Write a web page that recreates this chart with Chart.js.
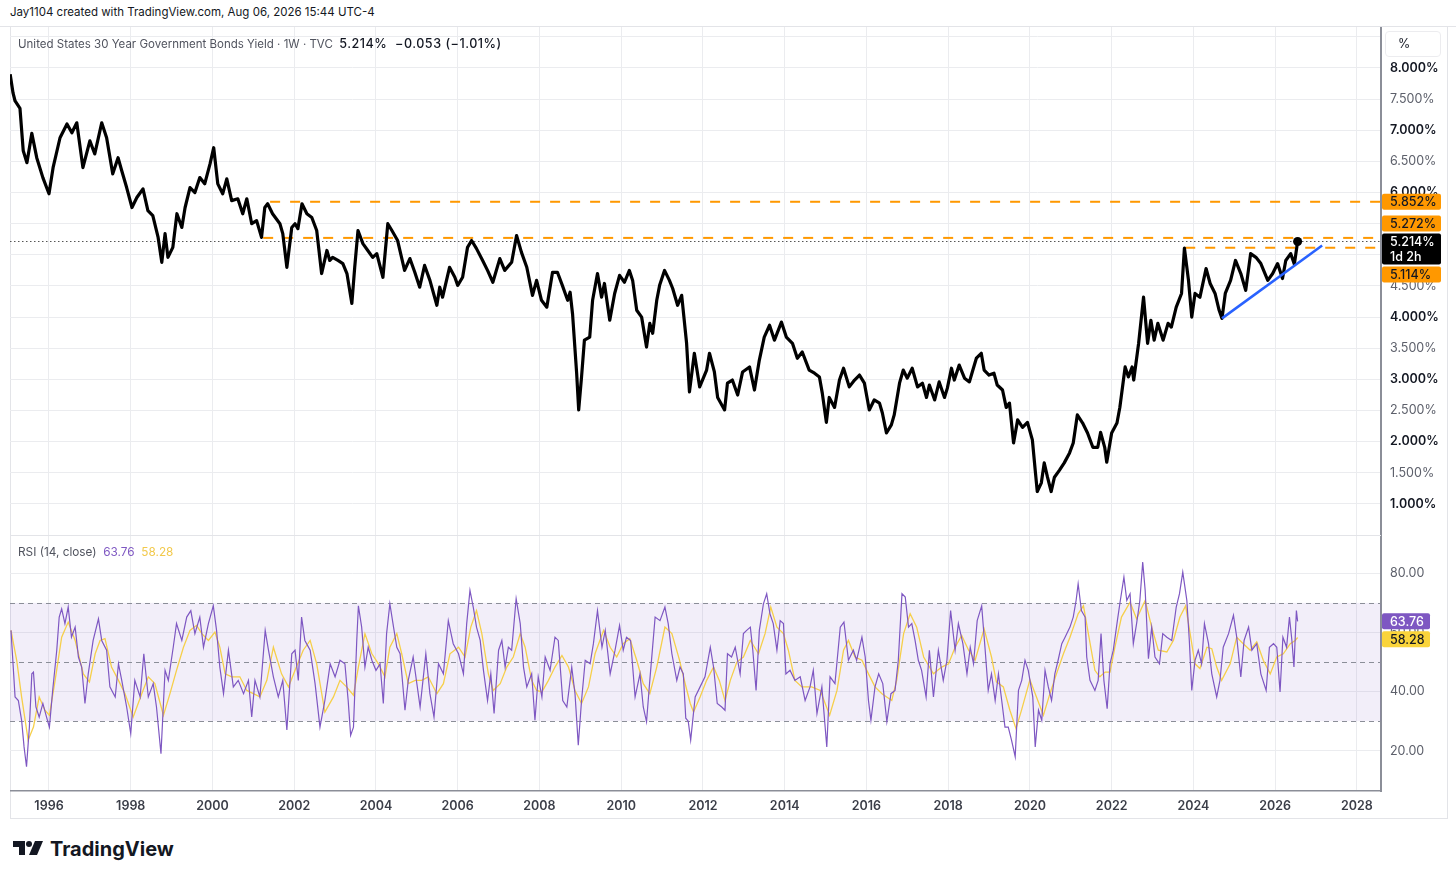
<!DOCTYPE html>
<html>
<head>
<meta charset="utf-8">
<script src="https://cdn.jsdelivr.net/npm/chart.js@4.4.1/dist/chart.umd.min.js"></script>
<style>
  html, body { margin: 0; padding: 0; background: #fff; }
  body { width: 1456px; height: 880px; position: relative; overflow: hidden; font-family: Inter, "Noto Sans", sans-serif; color: #131722; }
  .abs { position: absolute; white-space: nowrap; }
  #head { left: 10px; top: 5px; font-size: 11.5px; }
  #headLine { left: 0; top: 26px; width: 1456px; height: 1px; background: #e3e4e8; }
  #frame { left: 10px; top: 27px; width: 1436px; height: 791px; border: 1px solid #e3e4e8; border-top: none; }
  #pane1 { left: 10px; top: 27px; width: 1437px; height: 509px; }
  #pane2 { left: 10px; top: 536px; width: 1437px; height: 283px; }
  #sep { left: 10px; top: 535px; width: 1371px; height: 1px; background: #e3e4e8; }
  #title { left: 18px; top: 36px; font-size: 11.5px; color: #50535e; }
  #title b { font-weight: 500; font-size: 12.6px; letter-spacing: 0.5px; }
  #rsiTitle b { font-weight: 400; }
  #rsiTitle { left: 18px; top: 545px; font-size: 11.8px; color: #50535e; }
  #pct { left: 1385px; top: 31px; width: 54px; height: 24px; border: 1px solid #ececef; border-radius: 4px; font-size: 12.5px; line-height: 24px; text-indent: 12px; }
  #logo { left: 12px; top: 836px; }
</style>
</head>
<body>
<div class="abs" id="head">Jay1104 created with TradingView.com, Aug 06, 2026 15:44 UTC-4</div>
<div class="abs" id="headLine"></div>
<div class="abs" id="frame"></div>
<div class="abs" id="pane1"><canvas id="priceChart"></canvas></div>
<div class="abs" id="pane2"><canvas id="rsiChart"></canvas></div>
<div class="abs" id="sep"></div>
<div class="abs" id="title">United States 30 Year Government Bonds Yield · 1W · TVC&nbsp;&nbsp;<b style="color:#131722">5.214%&nbsp;&nbsp;−0.053 (−1.01%)</b></div>
<div class="abs" id="rsiTitle">RSI (14, close)&nbsp;&nbsp;<b style="color:#7e57c2">63.76</b>&nbsp;&nbsp;<b style="color:#f2c94c">58.28</b></div>
<div class="abs" id="pct">%</div>
<div class="abs" id="logo">
  <svg width="170" height="28" viewBox="0 0 170 28">
    <path d="M1 5 H13 V19 H7 V11 H1 Z" fill="#131722"/>
    <circle cx="17" cy="8" r="3" fill="#131722"/>
    <path d="M23 5 H31 L25 19 H17 Z" fill="#131722"/>
    <text x="38" y="20" font-family="Inter, sans-serif" font-weight="700" font-size="20" fill="#131722">TradingView</text>
  </svg>
</div>
<script>
// weekly close of the 30Y yield (decimal year, %)
const priceYears = [
  1995.05, 1995.12, 1995.17, 1995.29, 1995.37, 1995.46, 1995.58, 1995.70, 1995.85,
  1996.00, 1996.10, 1996.27, 1996.44, 1996.56, 1996.68, 1996.83,
  1997.00, 1997.12, 1997.29, 1997.41, 1997.56, 1997.69, 1997.78, 1997.90,
  1998.03, 1998.15, 1998.30, 1998.42, 1998.54, 1998.67, 1998.76, 1998.84, 1998.91,
  1999.03, 1999.13, 1999.25, 1999.33, 1999.45, 1999.57, 1999.69, 1999.81, 1999.94,
  2000.03, 2000.13, 2000.25, 2000.35, 2000.47, 2000.62, 2000.74, 2000.84, 2000.96,
  2001.08, 2001.20, 2001.28, 2001.35, 2001.47, 2001.65, 2001.72, 2001.82, 2001.94,
  2002.02, 2002.09, 2002.19, 2002.31, 2002.43, 2002.55, 2002.67, 2002.80, 2002.87, 2002.94,
  2003.07, 2003.19, 2003.29, 2003.41, 2003.48, 2003.56, 2003.68, 2003.80, 2003.92,
  2004.02, 2004.17, 2004.29, 2004.39, 2004.53, 2004.70, 2004.83, 2004.95,
  2005.07, 2005.19, 2005.32, 2005.49, 2005.56, 2005.63, 2005.80, 2005.93,
  2006.00, 2006.12, 2006.24, 2006.34, 2006.46, 2006.61, 2006.73, 2006.86,
  2007.03, 2007.15, 2007.32, 2007.44, 2007.56, 2007.69, 2007.83, 2007.93,
  2008.05, 2008.18, 2008.32, 2008.44, 2008.56, 2008.69, 2008.75, 2008.81, 2008.91, 2008.96,
  2009.03, 2009.10, 2009.23, 2009.30, 2009.42, 2009.52, 2009.59, 2009.72, 2009.84, 2009.96,
  2010.08, 2010.20, 2010.28, 2010.38, 2010.50, 2010.62, 2010.70, 2010.77, 2010.87, 2010.94,
  2011.06, 2011.18, 2011.26, 2011.38, 2011.48, 2011.60, 2011.67, 2011.79, 2011.92,
  2012.09, 2012.16, 2012.28, 2012.36, 2012.53, 2012.60, 2012.72, 2012.85, 2012.97,
  2013.14, 2013.26, 2013.38, 2013.50, 2013.63, 2013.75, 2013.92,
  2014.04, 2014.19, 2014.31, 2014.43, 2014.60, 2014.73, 2014.85, 2014.92,
  2015.02, 2015.09, 2015.22, 2015.34, 2015.44, 2015.58, 2015.71, 2015.83, 2015.95,
  2016.07, 2016.19, 2016.32, 2016.39, 2016.49, 2016.61, 2016.68, 2016.81, 2016.90,
  2017.00, 2017.12, 2017.25, 2017.37, 2017.47, 2017.54, 2017.67, 2017.78, 2017.91, 2017.98,
  2018.08, 2018.15, 2018.27, 2018.40, 2018.52, 2018.59, 2018.69, 2018.81, 2018.88,
  2019.00, 2019.12, 2019.20, 2019.33, 2019.42, 2019.50, 2019.60, 2019.70, 2019.82, 2019.94,
  2020.06, 2020.13, 2020.18, 2020.28, 2020.35, 2020.43, 2020.52, 2020.60, 2020.72, 2020.84, 2020.97,
  2021.06, 2021.16, 2021.29, 2021.41, 2021.54, 2021.66, 2021.73, 2021.83, 2021.88,
  2022.00, 2022.13, 2022.20, 2022.33, 2022.41, 2022.50, 2022.54, 2022.66, 2022.78, 2022.88, 2022.96,
  2023.04, 2023.13, 2023.26, 2023.38, 2023.46, 2023.58, 2023.71, 2023.78, 2023.88, 2023.96,
  2024.04, 2024.16, 2024.31, 2024.41, 2024.53, 2024.63, 2024.70, 2024.78, 2024.91,
  2025.03, 2025.16, 2025.28, 2025.40, 2025.53, 2025.65, 2025.82, 2025.94,
  2026.06, 2026.18, 2026.26, 2026.38, 2026.47, 2026.55
];
const priceValues = [
  7.90, 7.60, 7.47, 7.35, 6.67, 6.48, 6.95, 6.56, 6.24,
  5.98, 6.40, 6.88, 7.10, 6.96, 7.12, 6.40,
  6.83, 6.62, 7.12, 6.88, 6.30, 6.56, 6.35, 6.08,
  5.76, 5.92, 6.06, 5.71, 5.63, 5.28, 4.88, 5.34, 4.96,
  5.12, 5.66, 5.44, 5.76, 6.08, 6.00, 6.24, 6.14, 6.46,
  6.72, 6.14, 5.98, 6.22, 5.87, 5.90, 5.66, 5.90, 5.50,
  5.55, 5.28, 5.76, 5.82, 5.66, 5.50, 5.34, 4.80, 5.44,
  5.50, 5.42, 5.82, 5.66, 5.60, 5.39, 4.70, 5.07, 4.91, 4.96,
  4.91, 4.86, 4.70, 4.22, 4.80, 5.39, 5.18, 5.07, 4.96,
  5.02, 4.64, 5.50, 5.39, 5.23, 4.75, 4.94, 4.72,
  4.48, 4.83, 4.59, 4.19, 4.48, 4.32, 4.80, 4.64,
  4.51, 4.64, 5.12, 5.23, 5.10, 4.91, 4.75, 4.56,
  4.94, 4.75, 4.88, 5.31, 5.04, 4.80, 4.35, 4.59,
  4.27, 4.16, 4.72, 4.72, 4.51, 4.27, 4.40, 4.05, 3.10, 2.51,
  3.04, 3.63, 3.68, 4.27, 4.70, 4.32, 4.54, 3.95, 4.38, 4.67,
  4.56, 4.75, 4.59, 4.11, 4.00, 3.52, 3.90, 3.74, 4.27, 4.51,
  4.75, 4.59, 4.46, 4.19, 4.35, 3.58, 2.80, 3.42, 2.88,
  3.15, 3.42, 3.12, 2.71, 2.51, 2.94, 2.99, 2.75, 3.12,
  3.20, 2.83, 3.31, 3.68, 3.87, 3.63, 3.92,
  3.68, 3.58, 3.34, 3.44, 3.15, 3.10, 3.04, 2.78,
  2.31, 2.71, 2.55, 2.99, 3.18, 2.88, 2.99, 3.07, 2.94,
  2.51, 2.67, 2.62, 2.46, 2.14, 2.27, 2.43, 2.94, 3.15,
  3.02, 3.18, 2.88, 2.94, 2.71, 2.91, 2.67, 2.96, 2.71, 2.86,
  3.18, 2.99, 3.23, 3.02, 2.96, 3.12, 3.34, 3.42, 3.15,
  3.07, 3.10, 2.91, 2.83, 2.55, 2.62, 1.98, 2.35, 2.23, 2.31,
  2.03, 1.54, 1.20, 1.34, 1.66, 1.43, 1.20, 1.43, 1.54, 1.66, 1.82,
  1.98, 2.43, 2.30, 2.14, 1.91, 1.91, 2.15, 1.91, 1.67,
  2.14, 2.30, 2.55, 3.20, 3.04, 3.20, 2.99, 3.58, 4.32, 3.58, 3.95,
  3.63, 3.90, 3.63, 3.90, 3.84, 4.16, 4.38, 5.11, 4.59, 4.00,
  4.38, 4.32, 4.78, 4.54, 4.38, 4.11, 3.98, 4.38, 4.59,
  4.91, 4.70, 4.43, 5.02, 4.96, 4.86, 4.59, 4.70,
  4.86, 4.62, 4.91, 5.02, 4.85, 5.214
];

// RSI (14, close)
const rsiYears = [
  1995.07, 1995.11, 1995.17, 1995.25, 1995.33, 1995.39, 1995.45, 1995.52, 1995.58, 1995.62, 1995.68, 1995.76, 1995.85, 1995.94,
  1996.01, 1996.09, 1996.19, 1996.25, 1996.31, 1996.39, 1996.47, 1996.55, 1996.64, 1996.72, 1996.80, 1996.88, 1996.96,
  1997.08, 1997.21, 1997.29, 1997.41, 1997.49, 1997.62, 1997.70, 1997.78, 1997.90,
  1998.00, 1998.10, 1998.23, 1998.32, 1998.43, 1998.55, 1998.63, 1998.74, 1998.84, 1998.92,
  1999.04, 1999.12, 1999.25, 1999.37, 1999.47, 1999.57, 1999.69, 1999.78, 1999.90,
  2000.02, 2000.10, 2000.18, 2000.27, 2000.39, 2000.51, 2000.63, 2000.76, 2000.88, 2000.96,
  2001.04, 2001.16, 2001.29, 2001.37, 2001.49, 2001.61, 2001.72, 2001.82, 2001.94,
  2002.02, 2002.10, 2002.18, 2002.26, 2002.39, 2002.51, 2002.63, 2002.75, 2002.88,
  2003.00, 2003.12, 2003.24, 2003.32, 2003.38, 2003.45, 2003.53, 2003.57, 2003.65, 2003.73, 2003.81, 2003.90,
  2004.00, 2004.10, 2004.18, 2004.26, 2004.34, 2004.43, 2004.51, 2004.59, 2004.71, 2004.79, 2004.91,
  2005.08, 2005.22, 2005.32, 2005.42, 2005.53, 2005.65, 2005.77, 2005.89,
  2006.02, 2006.14, 2006.22, 2006.30, 2006.38, 2006.46, 2006.55, 2006.63, 2006.73, 2006.81, 2006.89,
  2007.00, 2007.08, 2007.16, 2007.24, 2007.32, 2007.43, 2007.53, 2007.61, 2007.69, 2007.81, 2007.89, 2007.97,
  2008.06, 2008.14, 2008.26, 2008.38, 2008.46, 2008.57, 2008.67, 2008.79, 2008.87, 2008.95,
  2009.03, 2009.12, 2009.24, 2009.32, 2009.42, 2009.53, 2009.61, 2009.73, 2009.85, 2009.96,
  2010.05, 2010.13, 2010.23, 2010.34, 2010.46, 2010.54, 2010.62, 2010.70, 2010.83, 2010.95,
  2011.07, 2011.15, 2011.24, 2011.36, 2011.44, 2011.52, 2011.58, 2011.64, 2011.70, 2011.81, 2011.93,
  2012.05, 2012.18, 2012.26, 2012.35, 2012.46, 2012.54, 2012.60, 2012.70, 2012.79, 2012.91, 2012.99,
  2013.07, 2013.16, 2013.22, 2013.30, 2013.38, 2013.48, 2013.56, 2013.64, 2013.72, 2013.81, 2013.89, 2013.97,
  2014.03, 2014.13, 2014.25, 2014.38, 2014.50, 2014.62, 2014.70, 2014.79, 2014.91,
  2015.03, 2015.11, 2015.23, 2015.36, 2015.45, 2015.56, 2015.68, 2015.76, 2015.89, 2015.97,
  2016.05, 2016.11, 2016.21, 2016.30, 2016.40, 2016.50, 2016.60, 2016.70, 2016.78, 2016.87, 2016.95,
  2017.03, 2017.11, 2017.19, 2017.27, 2017.35, 2017.46, 2017.54, 2017.64, 2017.76, 2017.88, 2017.97,
  2018.06, 2018.17, 2018.25, 2018.36, 2018.46, 2018.54, 2018.62, 2018.71, 2018.82, 2018.90, 2018.98,
  2019.06, 2019.15, 2019.23, 2019.31, 2019.39, 2019.47, 2019.55, 2019.64, 2019.72, 2019.80, 2019.88, 2019.96,
  2020.07, 2020.13, 2020.21, 2020.29, 2020.37, 2020.45, 2020.53, 2020.61, 2020.69, 2020.78, 2020.86, 2020.98,
  2021.06, 2021.13, 2021.18, 2021.26, 2021.35, 2021.39, 2021.47, 2021.59, 2021.67, 2021.74, 2021.81, 2021.89, 2021.96,
  2022.04, 2022.14, 2022.20, 2022.30, 2022.37, 2022.45, 2022.53, 2022.61, 2022.69, 2022.76, 2022.82, 2022.90, 2022.98,
  2023.06, 2023.17, 2023.25, 2023.35, 2023.47, 2023.58, 2023.66, 2023.74, 2023.84, 2023.90, 2023.96,
  2024.04, 2024.12, 2024.20, 2024.27, 2024.37, 2024.45, 2024.57, 2024.65, 2024.73, 2024.86, 2024.98,
  2025.06, 2025.16, 2025.24, 2025.35, 2025.43, 2025.55, 2025.65, 2025.78, 2025.86, 2025.96,
  2026.04, 2026.12, 2026.19, 2026.28, 2026.35, 2026.41, 2026.46, 2026.52, 2026.55
];
const rsiValues = [
  60.7, 51.7, 38.2, 37.0, 30.3, 21.3, 14.6, 28.0, 46.0, 46.6, 34.8, 31.4, 36.0, 31.4,
  28.0, 40.4, 54.0, 65.2, 68.0, 63.0, 68.6, 58.4, 61.8, 51.7, 48.3, 36.0, 46.0,
  57.3, 64.6, 57.3, 54.0, 41.6, 38.2, 49.4, 43.8, 34.8,
  25.8, 43.8, 38.2, 52.8, 38.2, 42.7, 34.8, 19.0, 47.2, 43.8,
  55.0, 63.0, 57.3, 65.2, 67.4, 59.6, 65.2, 55.0, 63.0,
  69.0, 60.7, 48.3, 39.3, 54.0, 41.6, 43.8, 39.3, 43.8, 31.4,
  43.8, 38.2, 60.7, 54.0, 45.0, 38.2, 43.8, 27.0, 52.8,
  54.0, 43.8, 65.2, 57.3, 54.0, 42.7, 28.0, 37.0, 49.4,
  45.0, 50.6, 49.4, 37.0, 25.2, 28.0, 57.3, 69.0, 61.8, 48.3, 55.0, 50.6,
  47.2, 49.4, 36.0, 59.6, 69.7, 61.8, 55.0, 52.8, 33.7, 43.8, 51.7,
  34.8, 52.8, 39.3, 31.4, 49.4, 46.0, 64.0, 56.2,
  52.8, 46.0, 63.0, 74.2, 68.6, 61.8, 57.3, 47.2, 37.0, 46.0, 32.6,
  54.0, 57.3, 48.3, 55.0, 54.0, 71.4, 63.0, 48.3, 41.6, 46.0, 30.3, 45.0,
  38.2, 51.7, 47.2, 58.4, 57.3, 37.0, 34.8, 48.3, 39.3, 21.9,
  37.0, 50.6, 49.4, 56.2, 67.4, 55.0, 60.7, 46.0, 54.0, 62.4,
  54.0, 58.4, 57.3, 38.2, 46.0, 34.8, 29.8, 43.8, 65.2, 64.0,
  68.6, 63.0, 52.8, 43.8, 48.3, 46.0, 31.0, 30.0, 23.6, 38.2, 41.6,
  45.0, 55.0, 48.3, 36.0, 34.8, 33.7, 52.8, 51.7, 55.0, 46.0, 59.6,
  60.7, 61.8, 54.0, 40.4, 60.7, 69.7, 73.1, 66.3, 63.0, 54.0, 64.0, 63.0,
  46.0, 47.2, 43.8, 45.0, 37.0, 41.6, 47.2, 32.6, 41.6,
  21.3, 45.0, 42.7, 61.8, 63.5, 50.6, 54.0, 50.6, 58.4, 51.7,
  37.0, 30.3, 41.6, 46.0, 42.7, 29.8, 39.3, 40.4, 50.6, 73.1, 72.0,
  61.8, 63.0, 57.3, 50.6, 47.2, 38.2, 54.0, 38.2, 54.0, 43.8, 50.6,
  67.4, 54.0, 63.0, 56.2, 46.0, 55.0, 49.4, 64.0, 69.0, 55.0, 40.4,
  46.0, 37.0, 46.0, 37.0, 28.0, 28.0, 23.6, 18.0, 40.4, 43.8, 50.6, 47.2,
  38.2, 21.3, 33.7, 30.3, 47.2, 41.6, 37.0, 46.0, 50.6, 56.2, 58.4, 61.8,
  65.2, 70.8, 76.4, 67.4, 65.2, 51.7, 43.8, 40.4, 43.8, 59.6, 43.8, 34.2, 49.4,
  54.0, 64.0, 69.7, 78.7, 70.8, 73.1, 56.2, 63.0, 70.8, 83.8, 74.2, 51.1, 61.8,
  51.7, 49.4, 59.6, 58.4, 57.3, 68.6, 73.1, 80.4, 70.8, 57.3, 40.4,
  50.6, 54.0, 49.4, 63.0, 56.2, 46.0, 38.2, 43.8, 55.0, 59.6, 65.8,
  58.4, 45.0, 57.3, 61.8, 54.0, 56.2, 46.0, 40.4, 55.0, 56.2,
  55.0, 39.9, 58.4, 55.0, 65.2, 57.3, 48.3, 67.4, 63.76
];

// moving average of the RSI
const rsiMaYears = [
  1995.07, 1995.21, 1995.33, 1995.49, 1995.62, 1995.76, 1995.90,
  1996.01, 1996.15, 1996.31, 1996.47, 1996.64, 1996.84, 1996.99,
  1997.13, 1997.25, 1997.37, 1997.53, 1997.70, 1997.86,
  1998.06, 1998.27, 1998.43, 1998.59, 1998.80, 1998.96,
  1999.12, 1999.29, 1999.45, 1999.61, 1999.74, 1999.90,
  2000.06, 2000.18, 2000.31, 2000.47, 2000.67, 2000.84,
  2001.00, 2001.16, 2001.33, 2001.49, 2001.69, 2001.86,
  2002.02, 2002.22, 2002.39, 2002.55, 2002.75, 2002.96,
  2003.12, 2003.28, 2003.45, 2003.57, 2003.73, 2003.90,
  2004.06, 2004.22, 2004.34, 2004.51, 2004.63, 2004.79, 2004.96,
  2005.12, 2005.28, 2005.49, 2005.65, 2005.81,
  2006.02, 2006.18, 2006.32, 2006.46, 2006.59, 2006.75, 2006.87,
  2007.04, 2007.20, 2007.36, 2007.53, 2007.65, 2007.81, 2007.93,
  2008.06, 2008.22, 2008.38, 2008.55, 2008.71, 2008.87,
  2009.03, 2009.20, 2009.36, 2009.57, 2009.73, 2009.89,
  2010.05, 2010.21, 2010.38, 2010.54, 2010.70, 2010.87,
  2011.07, 2011.24, 2011.42, 2011.56, 2011.69, 2011.77, 2011.93,
  2012.09, 2012.26, 2012.40, 2012.54, 2012.67, 2012.83, 2012.99,
  2013.16, 2013.36, 2013.52, 2013.66, 2013.81, 2013.97,
  2014.09, 2014.25, 2014.42, 2014.66, 2014.87,
  2015.10, 2015.28, 2015.44, 2015.56, 2015.72, 2015.89,
  2016.05, 2016.21, 2016.38, 2016.62, 2016.74, 2016.91,
  2017.07, 2017.23, 2017.40, 2017.64, 2017.84,
  2018.01, 2018.17, 2018.33, 2018.50, 2018.66, 2018.88,
  2019.06, 2019.18, 2019.35, 2019.51, 2019.66, 2019.80,
  2020.00, 2020.13, 2020.33, 2020.49, 2020.65, 2020.82, 2020.98,
  2021.18, 2021.31, 2021.43, 2021.59, 2021.71, 2021.84, 2021.96,
  2022.08, 2022.24, 2022.45, 2022.61, 2022.82, 2022.98,
  2023.14, 2023.35, 2023.51, 2023.67, 2023.81, 2023.92,
  2024.04, 2024.16, 2024.33, 2024.45, 2024.57, 2024.69, 2024.90,
  2025.06, 2025.22, 2025.39, 2025.55, 2025.71, 2025.88,
  2026.04, 2026.20, 2026.37, 2026.49, 2026.55
];
const rsiMaValues = [
  60.7, 50.6, 38.2, 23.6, 28.0, 38.2, 33.7,
  32.0, 43.8, 58.4, 63.5, 57.3, 46.0, 43.3,
  52.8, 57.3, 57.9, 48.3, 43.8, 39.3,
  31.4, 39.3, 45.0, 42.7, 32.0, 39.3,
  47.2, 55.0, 60.7, 62.4, 59.6, 57.3,
  60.1, 55.0, 46.0, 45.0, 45.0, 40.4,
  39.3, 38.2, 43.8, 55.0, 46.0, 41.6,
  47.2, 54.0, 57.3, 49.4, 33.1, 38.2,
  43.8, 41.6, 38.8, 48.3, 59.6, 52.8,
  49.4, 45.0, 55.0, 59.6, 52.8, 42.7, 43.8,
  43.8, 45.0, 39.3, 42.7, 52.8,
  55.0, 51.7, 61.8, 67.4, 59.6, 46.0, 40.4,
  42.7, 48.3, 51.7, 59.6, 55.0, 43.8, 40.4,
  39.9, 43.8, 48.3, 52.2, 48.3, 40.4,
  36.0, 41.6, 52.8, 60.7, 55.0, 51.7,
  56.2, 57.9, 50.6, 42.7, 39.3, 48.3,
  61.8, 59.6, 51.0, 43.0, 36.0, 33.1, 38.2,
  43.8, 48.3, 43.8, 37.0, 43.8, 50.0, 51.7,
  57.3, 52.8, 59.6, 68.6, 61.8, 59.6,
  54.0, 43.8, 41.6, 41.6, 40.4,
  32.0, 40.4, 54.0, 57.3, 51.7, 50.6,
  46.0, 41.6, 39.3, 37.0, 43.8, 59.6,
  66.3, 61.8, 51.7, 46.0, 48.3,
  49.4, 55.0, 59.0, 54.0, 50.6, 61.2,
  51.7, 43.3, 41.6, 33.7, 27.5, 34.0,
  44.0, 39.3, 32.0, 39.3, 46.0, 52.8, 58.4,
  66.3, 69.0, 59.6, 47.2, 45.0, 46.6, 46.6,
  55.0, 65.2, 70.2, 64.6, 70.8, 61.8,
  54.0, 53.4, 57.3, 65.2, 69.0, 59.6,
  49.4, 47.8, 55.0, 54.5, 48.3, 43.8, 49.4,
  58.4, 56.2, 54.0, 56.8, 50.6, 46.0,
  51.7, 52.8, 56.2, 57.3, 58.28
];

// horizontal levels drawn on the chart and where each one starts
const levelValues = [5.852, 5.272, 5.114];
const levelStarts = [2001.41, 2001.24, 2023.80];
// rising support line
const trendYears = [2024.70, 2027.15];
const trendValues = [3.98, 5.15];

const lastYield = 5.214;
const lastRsi = 63.76;
const lastRsiMa = 58.28;

const yieldTicks = [1, 1.5, 2, 2.5, 3, 3.5, 4, 4.5, 5, 5.5, 6, 6.5, 7, 7.5, 8, 8.5];
const rsiTicks = [20, 40, 60, 80];
const rsiBands = [70, 50, 30];
const yearTicks = [1996, 1998, 2000, 2002, 2004, 2006, 2008, 2010, 2012, 2014, 2016, 2018, 2020, 2022, 2024, 2026, 2028];

const X_MIN = 1995.046, X_MAX = 2028.59;
const AXIS_W = 66;
const GRID = '#ebecef';
const FONT = 'Inter';

Chart.defaults.font.family = FONT;
Chart.defaults.animation = false;

const toPoints = (xs, ys) => xs.map((x, i) => ({ x: x, y: ys[i] }));
const isWhole = c => !!(c && c.tick && Number.isInteger(c.tick.value));

// keep the plot flush with the pane edges: drop the label overhang padding
function fixY(s) {
  s.width = AXIS_W;
  s.paddingTop = 0;
  s.paddingBottom = 0;
}

// draws the price/value tags on the right axis, pushing neighbours off the fixed one
function drawBadges(chart, badges) {
  const ctx = chart.ctx;
  const yScale = chart.scales.y;
  const left = chart.chartArea.right + 1;
  const lineH = 15, pad = 0.5;
  const fixed = badges.find(b => b.fixed);
  const fy = yScale.getPixelForValue(fixed.value);
  const fTop = fy - lineH / 2 - pad;
  const fBot = fTop + fixed.lines.length * lineH + 2 * pad;
  badges.forEach(b => {
    const h = b.lines.length * lineH + 2 * pad;
    let top;
    if (b === fixed) top = fTop;
    else {
      const c = yScale.getPixelForValue(b.value);
      const center = b.value > fixed.value ? Math.min(c, fTop - 2 - h / 2) : Math.max(c, fBot + 2 + h / 2);
      top = center - h / 2;
    }
    ctx.save();
    ctx.fillStyle = b.bg;
    ctx.beginPath();
    ctx.roundRect(left, top, b.width, h, 2);
    ctx.fill();
    ctx.fillStyle = b.fg;
    ctx.font = '500 12.5px ' + FONT;
    ctx.textBaseline = 'middle';
    b.lines.forEach((t, i) => ctx.fillText(t, left + 8, top + pad + lineH / 2 + i * lineH + 0.5));
    ctx.restore();
  });
}

const decor = {
  id: 'decor',
  beforeDatasetsDraw(chart, args, opts) {
    if (!opts.bands) return;
    const { ctx, chartArea: a } = chart;
    const y = chart.scales.y;
    ctx.save();
    ctx.fillStyle = 'rgba(126, 87, 194, 0.1)';
    const yTop = y.getPixelForValue(opts.bands[0]);
    const yBot = y.getPixelForValue(opts.bands[opts.bands.length - 1]);
    ctx.fillRect(a.left, yTop, a.right - a.left, yBot - yTop);
    ctx.strokeStyle = '#8b8e98';
    ctx.lineWidth = 1;
    ctx.setLineDash([5, 4]);
    opts.bands.forEach(v => {
      const py = Math.round(y.getPixelForValue(v)) + 0.5;
      ctx.beginPath();
      ctx.moveTo(a.left, py);
      ctx.lineTo(a.right, py);
      ctx.stroke();
    });
    ctx.restore();
  },
  afterDraw(chart, args, opts) {
    if (opts.badges) drawBadges(chart, opts.badges);
  }
};

const xScale = (showLabels) => ({
  type: 'linear',
  min: X_MIN,
  max: X_MAX,
  afterBuildTicks: s => { s.ticks = yearTicks.map(v => ({ value: v })); },
  afterFit: s => { s.height = showLabels ? 28 : 0; s.paddingLeft = 0; s.paddingRight = 0; },
  grid: { color: GRID, drawTicks: false },
  border: { display: showLabels, color: '#8b8e98', width: 1.5 },
  ticks: {
    display: showLabels,
    padding: 8,
    maxRotation: 0,
    autoSkip: false,
    color: '#3b3e48',
    font: { size: 12.5, weight: '600' },
    callback: v => String(v)
  }
});

const levelSets = levelValues.map((v, i) => ({
  data: [{ x: levelStarts[i], y: v }, { x: X_MAX, y: v }],
  borderColor: '#ff9800',
  borderWidth: 2,
  borderDash: [10, 10],
  pointRadius: 0
}));

const lastIdx = priceValues.length - 1;

new Chart(document.getElementById('priceChart'), {
  type: 'line',
  data: {
    datasets: [
      {
        data: toPoints(trendYears, trendValues),
        borderColor: '#2962ff',
        borderWidth: 2.5,
        pointRadius: 0
      },
      {
        data: toPoints(priceYears, priceValues),
        borderColor: '#000',
        borderWidth: 3.2,
        borderJoinStyle: 'round',
        pointRadius: c => c.dataIndex === lastIdx ? 4.5 : 0,
        pointBackgroundColor: '#000',
        pointBorderWidth: 0
      },
      ...levelSets,
      {
        data: [{ x: X_MIN, y: lastYield }, { x: X_MAX, y: lastYield }],
        borderColor: '#555',
        borderWidth: 1,
        borderDash: [1.5, 2.5],
        pointRadius: 0
      }
    ]
  },
  options: {
    responsive: true,
    maintainAspectRatio: false,
    parsing: false,
    layout: { padding: 0, autoPadding: false },
    plugins: {
      legend: { display: false },
      tooltip: { enabled: false },
      decor: {
        badges: [
          { value: 5.852, lines: ['5.852%'], bg: '#ff9800', fg: '#131722', width: 59 },
          { value: 5.272, lines: ['5.272%'], bg: '#ff9800', fg: '#131722', width: 59 },
          { value: lastYield, lines: ['5.214%', '1d 2h'], bg: '#000', fg: '#fff', width: 59, fixed: true },
          { value: 5.114, lines: ['5.114%'], bg: '#ff9800', fg: '#131722', width: 59 }
        ]
      }
    },
    scales: {
      x: xScale(false),
      y: {
        position: 'right',
        min: 0.486,
        max: 8.658,
        afterFit: fixY,
        afterBuildTicks: s => { s.ticks = yieldTicks.map(v => ({ value: v })); },
        grid: { color: GRID, drawTicks: false },
        border: { display: true, color: '#8b8e98', width: 2 },
        ticks: {
          padding: 9,
          callback: v => v === 8.5 ? '' : v.toFixed(3) + '%',
          color: c => isWhole(c) ? '#131722' : '#5d606b',
          font: c => ({ size: 12.5, weight: isWhole(c) ? '600' : '400' })
        }
      }
    }
  },
  plugins: [decor]
});

new Chart(document.getElementById('rsiChart'), {
  type: 'line',
  data: {
    datasets: [
      {
        data: toPoints(rsiYears, rsiValues),
        borderColor: '#7e57c2',
        borderWidth: 1.2,
        pointRadius: 0
      },
      {
        data: toPoints(rsiMaYears, rsiMaValues),
        borderColor: '#f6cf4a',
        borderWidth: 1.3,
        pointRadius: 0
      }
    ]
  },
  options: {
    responsive: true,
    maintainAspectRatio: false,
    parsing: false,
    layout: { padding: 0, autoPadding: false },
    plugins: {
      legend: { display: false },
      tooltip: { enabled: false },
      decor: {
        bands: rsiBands,
        badges: [
          { value: lastRsi, lines: ['63.76'], bg: '#7e57c2', fg: '#fff', width: 48, fixed: true },
          { value: lastRsiMa, lines: ['58.28'], bg: '#fad43b', fg: '#131722', width: 48 }
        ]
      }
    },
    scales: {
      x: xScale(true),
      y: {
        position: 'right',
        min: 6.4,
        max: 92.61,
        afterFit: fixY,
        afterBuildTicks: s => { s.ticks = rsiTicks.map(v => ({ value: v })); },
        grid: { color: GRID, drawTicks: false },
        border: { display: true, color: '#8b8e98', width: 2 },
        ticks: {
          padding: 9,
          color: '#5d606b',
          font: { size: 12.5 },
          callback: v => v.toFixed(2)
        }
      }
    }
  },
  plugins: [decor]
});
</script>
</body>
</html>
